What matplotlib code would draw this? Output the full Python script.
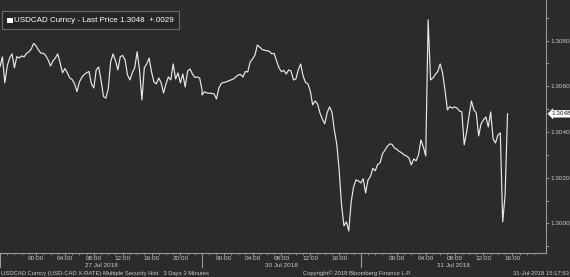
import matplotlib
matplotlib.use("Agg")
import matplotlib.pyplot as plt
import matplotlib.transforms as mtransforms
from matplotlib.patches import Rectangle
import numpy as np
import pandas as pd

BG = "#2b2b2b"
FG = "#c8c8c8"
AX = "#9a9a9a"
plt.rcParams["font.family"] = ["Liberation Sans", "DejaVu Sans"]

# USDCAD last price, 20 minute samples, one list per session
fri_start = "2018-07-26 19:00"
fri_end = "2018-07-27 23:00"
fri_px = [
    1.30686, 1.30729, 1.30615, 1.30689, 1.30724, 1.30742, 1.30681, 1.30730, 1.30724, 1.30733,
    1.30729, 1.30744, 1.30751, 1.30764, 1.30788, 1.30777, 1.30759, 1.30745, 1.30745, 1.30735,
    1.30716, 1.30689, 1.30711, 1.30724, 1.30742, 1.30702, 1.30659, 1.30678, 1.30659, 1.30637,
    1.30630, 1.30611, 1.30577, 1.30619, 1.30639, 1.30652, 1.30659, 1.30665, 1.30611, 1.30593,
    1.30672, 1.30685, 1.30628, 1.30556, 1.30548, 1.30589, 1.30707, 1.30742, 1.30713, 1.30672,
    1.30730, 1.30735, 1.30716, 1.30650, 1.30628, 1.30659, 1.30681, 1.30751, 1.30672, 1.30541,
    1.30681, 1.30698, 1.30724, 1.30663, 1.30619, 1.30611, 1.30637, 1.30615, 1.30571, 1.30611,
    1.30641, 1.30628, 1.30698, 1.30632, 1.30659, 1.30615, 1.30654, 1.30597, 1.30667, 1.30676,
    1.30654, 1.30639, 1.30641, 1.30637, 1.30584,
]
mon_start = "2018-07-29 21:00"
mon_end = "2018-07-30 19:00"
mon_px = [
    1.30562, 1.30576, 1.30571, 1.30570, 1.30569, 1.30567, 1.30545, 1.30592, 1.30613, 1.30617,
    1.30619, 1.30624, 1.30628, 1.30632, 1.30641, 1.30650, 1.30652, 1.30641, 1.30665, 1.30663,
    1.30707, 1.30720, 1.30737, 1.30781, 1.30772, 1.30761, 1.30758, 1.30756, 1.30753, 1.30742,
    1.30744, 1.30711, 1.30681, 1.30664, 1.30670, 1.30654, 1.30672, 1.30667, 1.30628, 1.30632,
    1.30672, 1.30698, 1.30646, 1.30617, 1.30611, 1.30580, 1.30519, 1.30536, 1.30523, 1.30484,
    1.30457, 1.30436, 1.30484, 1.30510, 1.30488, 1.30409, 1.30348, 1.30234, 1.30081, 1.29989,
    1.30007, 1.29967, 1.30094, 1.30160, 1.30190, 1.30186,
]
tue_start = "2018-07-30 19:00"
tue_end = "2018-07-31 19:00"
tue_px = [
    1.30177, 1.30195, 1.30133, 1.30190, 1.30205, 1.30241, 1.30230, 1.30258, 1.30265, 1.30304,
    1.30320, 1.30337, 1.30348, 1.30346, 1.30330, 1.30324, 1.30315, 1.30309, 1.30300, 1.30295,
    1.30287, 1.30256, 1.30282, 1.30274, 1.30300, 1.30365, 1.30335, 1.30295, 1.30891, 1.30628,
    1.30637, 1.30652, 1.30665, 1.30698, 1.30659, 1.30584, 1.30497, 1.30511, 1.30505, 1.30510,
    1.30505, 1.30492, 1.30488, 1.30344, 1.30400, 1.30471, 1.30536, 1.30497, 1.30484, 1.30383,
    1.30436, 1.30453, 1.30466, 1.30422, 1.30488, 1.30370, 1.30352, 1.30387, 1.30396, 1.30007,
    1.30125, 1.30480,
]
view_end = "2018-07-31 20:40"
session_days = ["2018-07-27", "2018-07-30", "2018-07-31"]
last_price = 1.3048
change = "+.0029"

starts = pd.to_datetime([fri_start, mon_start, tue_start])
ends = pd.to_datetime([fri_end, mon_end, tue_end])
days = pd.to_datetime(session_days)
hour = pd.Timedelta(hours=1)

# weekend gap removed: x is trading hours since the first session opened
offsets = [0.0]
for s, e in zip(starts[:-1], ends[:-1]):
    offsets.append(offsets[-1] + (e - s) / hour)


def to_x(k, t):
    return offsets[k] + np.asarray((t - starts[k]) / hour, dtype=float)


xs, ys = [], []
for k, vals in enumerate([fri_px, mon_px, tue_px]):
    t = pd.date_range(starts[k], periods=len(vals), freq="20min")
    xs.append(to_x(k, t))
    ys.append(np.array(vals))
x = np.concatenate(xs)
y = np.concatenate(ys)

fig = plt.figure(figsize=(5.7, 2.77), dpi=100, facecolor=BG)
ax = fig.add_axes([0, 23.7 / 277, 546 / 570, 253.3 / 277])
ax.set_facecolor(BG)
ax.plot(x, y, color="#e8e8e8", lw=0.85)

xmax = float(to_x(2, pd.Timestamp(view_end)))
ax.set_xlim(0, xmax)
ax.set_ylim(1.29869, 1.30978)

# x ticks: hourly minor, 4-hourly labelled on the session's own date
major_pos, major_lab, minor_pos = [], [], []
for k in range(3):
    for h in pd.date_range(starts[k].ceil("h"), ends[k], freq="h"):
        px = float(to_x(k, h))
        if h.normalize() == days[k] and h.hour % 4 == 0:
            major_pos.append(px)
            major_lab.append(h.strftime("%H:%M"))
        else:
            minor_pos.append(px)
ax.set_xticks(major_pos)
ax.set_xticklabels(major_lab)
ax.set_xticks(minor_pos, minor=True)
ax.tick_params(axis="x", which="major", length=2, width=0.6, color=AX,
               labelsize=4.6, labelcolor=FG, pad=0.3)
ax.tick_params(axis="x", which="minor", length=1.5, width=0.5, color=AX)

# y axis on the right
ax.yaxis.tick_right()
ax.set_yticks(np.arange(1.2990, 1.3091, 0.0020), minor=True)
ax.set_yticks(np.arange(1.3000, 1.3081, 0.0020))
ax.yaxis.set_major_formatter(plt.FormatStrFormatter("%.4f"))
ax.tick_params(axis="y", which="major", length=2, width=0.6, color=AX,
               labelsize=4.6, labelcolor=FG, pad=1.5)
ax.tick_params(axis="y", which="minor", length=2, width=0.6, color=AX)

for side in ["left", "top"]:
    ax.spines[side].set_visible(False)
for side in ["right", "bottom"]:
    ax.spines[side].set_color(AX)
    ax.spines[side].set_linewidth(0.8)

# session separators and date labels below the axis
trans = mtransforms.blended_transform_factory(ax.transData, ax.transAxes)
for k in range(3):
    ax.plot([offsets[k], offsets[k]], [0, -0.056], color=AX, lw=0.8,
            transform=trans, clip_on=False)
    right = xmax if k == 2 else float(to_x(k, ends[k]))
    ax.text((offsets[k] + right) / 2, -0.038, days[k].strftime("%d Jul %Y"),
            transform=trans, ha="center", va="top", fontsize=4.6, color=FG)

# last price tag
ax.annotate(f"{last_price:.4f}", xy=(1, last_price),
            xycoords=("axes fraction", "data"), xytext=(4, 0),
            textcoords="offset points", ha="left", va="center",
            fontsize=4.6, color="#202020",
            bbox=dict(boxstyle="larrow,pad=0.15", fc="white", ec="white", lw=0.3),
            annotation_clip=False)

# legend box
fig.patches.append(Rectangle((1.7 / 570, 1 - 29 / 277), 177 / 570, 18.3 / 277,
                             transform=fig.transFigure, fc="#262626",
                             ec="#6a6a6a", lw=0.8))
fig.patches.append(Rectangle((7 / 570, 1 - 23 / 277), 5.5 / 570, 5.5 / 277,
                             transform=fig.transFigure, fc="white", ec="none"))
fig.text(14 / 570, 1 - 20 / 277,
         f"USDCAD Curncy - Last Price {last_price:.4f}  {change}",
         ha="left", va="center", fontsize=5.8, color="white")

# footer
fig.text(1 / 570, 3.7 / 277,
         "USDCAD Curncy (USD-CAD X-RATE) Multiple Security Hist   3 Days 3 Minutes",
         ha="left", va="center", fontsize=4.2, color=FG)
fig.text(303 / 570, 3.7 / 277, "Copyright\u00a9 2018 Bloomberg Finance L.P.",
         ha="left", va="center", fontsize=4.2, color=FG)
fig.text(569 / 570, 3.7 / 277, "31-Jul-2018 15:17:53",
         ha="right", va="center", fontsize=4.2, color=FG)

fig.savefig("out.png", dpi=100, facecolor=BG)
